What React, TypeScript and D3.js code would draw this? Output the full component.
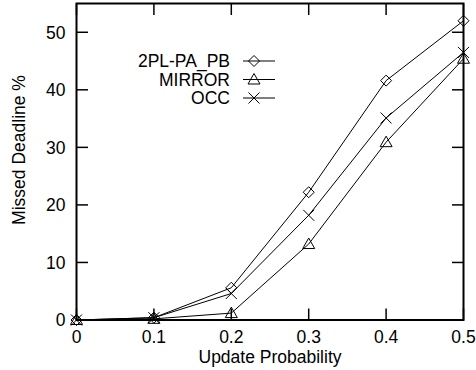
import React from "react";
import * as d3 from "d3";

const xValues = [0, 0.1, 0.2, 0.3, 0.4, 0.5];
const series2PL = [0, 0.4, 5.6, 22.2, 41.6, 52.0];
const seriesMirror = [0, 0.2, 1.2, 13.2, 30.9, 45.4];
const seriesOCC = [0, 0.4, 4.6, 18.2, 35.1, 46.5];
const seriesNames = ["2PL-PA_PB", "MIRROR", "OCC"];
const xTicks = [0, 0.1, 0.2, 0.3, 0.4, 0.5];
const yTicks = [0, 10, 20, 30, 40, 50];

const W = 476;
const H = 370;
const left = 76.5, right = 463.5, top = 3.5, bottom = 320;
const FONT = "'Liberation Sans', Arial, sans-serif";

function Marker({ type, cx, cy }: { type: string; cx: number; cy: number }) {
  const s = 5.5;
  if (type === "diamond") {
    return <path d={`M${cx},${cy - s}L${cx + s},${cy}L${cx},${cy + s}L${cx - s},${cy}Z`} fill="none" stroke="#000" strokeWidth={1} />;
  }
  if (type === "triangle") {
    return <path d={`M${cx},${cy - 6}L${cx + 6},${cy + 4.5}L${cx - 6},${cy + 4.5}Z`} fill="none" stroke="#000" strokeWidth={1} />;
  }
  return <path d={`M${cx - s},${cy - s}L${cx + s},${cy + s}M${cx - s},${cy + s}L${cx + s},${cy - s}`} fill="none" stroke="#000" strokeWidth={1} />;
}

export default function App() {
  const x = d3.scaleLinear().domain([0, 0.5]).range([left, right]);
  const y = d3.scaleLinear().domain([0, 55]).range([bottom, top]);
  const line = d3.line<number>().x((_, i) => x(xValues[i])).y((d) => y(d));
  const all = [
    { name: seriesNames[0], data: series2PL, m: "diamond" },
    { name: seriesNames[1], data: seriesMirror, m: "triangle" },
    { name: seriesNames[2], data: seriesOCC, m: "cross" },
  ];
  const tickLen = 11.5;
  const legendY = [61, 79.5, 98];
  return (
    <svg width={W} height={H} style={{ position: "absolute", left: 0, top: 0, background: "#fff" }} fontFamily={FONT}>
      <rect x={0} y={0} width={W} height={H} fill="#fff" />
      {yTicks.map((t) => (
        <g key={"y" + t}>
          <line x1={left} x2={left + tickLen} y1={y(t)} y2={y(t)} stroke="#000" strokeWidth={1.5} />
          <line x1={right} x2={right - tickLen} y1={y(t)} y2={y(t)} stroke="#000" strokeWidth={1.5} />
          <text x={left - 11} y={y(t) + 6.3} textAnchor="end" fontSize={17.5} fill="#000">{t}</text>
        </g>
      ))}
      {xTicks.map((t) => (
        <g key={"x" + t}>
          <line x1={x(t)} x2={x(t)} y1={bottom} y2={bottom - tickLen} stroke="#000" strokeWidth={1.5} />
          <line x1={x(t)} x2={x(t)} y1={top} y2={top + tickLen} stroke="#000" strokeWidth={1.5} />
          <text x={x(t)} y={342.5} textAnchor="middle" fontSize={17.5} fill="#000">{t === 0 ? "0" : String(t)}</text>
        </g>
      ))}
      <rect x={left} y={top} width={right - left} height={bottom - top} fill="none" stroke="#000" strokeWidth={2} />
      {all.map((s) => (
        <g key={s.name}>
          <path d={line(s.data) || ""} fill="none" stroke="#000" strokeWidth={1} />
          {s.data.map((v, i) => (
            <Marker key={i} type={s.m} cx={x(xValues[i])} cy={y(v)} />
          ))}
        </g>
      ))}
      {all.map((s, i) => (
        <g key={"l" + s.name}>
          <text x={230} y={legendY[i] + 6.3} textAnchor="end" fontSize={17.5} fill="#000">{s.name}</text>
          <line x1={243} x2={275} y1={legendY[i]} y2={legendY[i]} stroke="#000" strokeWidth={1} />
          <Marker type={s.m} cx={254} cy={legendY[i]} />
        </g>
      ))}
      <text x={(left + right) / 2} y={362.5} textAnchor="middle" fontSize={17.5} fill="#000">Update Probability</text>
      <text transform={`translate(24.5,150) rotate(-90)`} textAnchor="middle" fontSize={17.5} fill="#000">Missed Deadline %</text>
    </svg>
  );
}
